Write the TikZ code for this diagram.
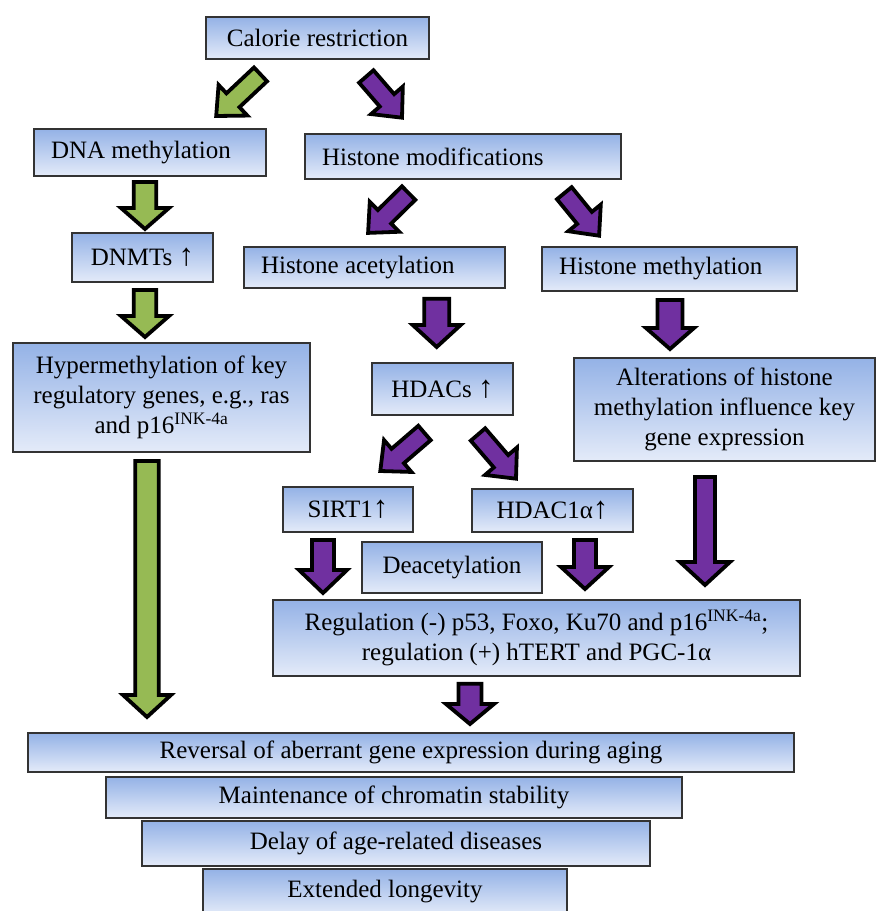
\documentclass[tikz,border=0pt]{standalone}
\usepackage{fontspec}
\setmainfont{Liberation Serif}
\usetikzlibrary{calc}
\definecolor{boxtop}{RGB}{148,178,230}
\definecolor{boxbot}{RGB}{228,235,249}
\definecolor{agreen}{RGB}{150,186,84}
\definecolor{apurple}{RGB}{112,48,160}
\newcommand{\uparr}{{\fontsize{31}{30}\selectfont ↑}}
\newcommand{\blockarr}[6]{%
  \coordinate (hb) at ($(#3)!#6pt!(#2)$);
  \filldraw[arrowline, fill=#1] ($(#2)!#4pt!90:(#3)$) -- ($(hb)!#4pt!90:(#3)$) -- ($(hb)!#5pt!90:(#3)$) -- (#3) -- ($(hb)!#5pt!-90:(#3)$) -- ($(hb)!#4pt!-90:(#3)$) -- ($(#2)!#4pt!-90:(#3)$) -- cycle;}
\tikzset{
  arrowline/.style={draw=black, line width=3.8pt, line join=miter, miter limit=10},
  box/.style={draw=black!80, line width=1.2pt, top color=boxtop, bottom color=boxbot,
    font=\fontsize{25}{30}\selectfont, inner sep=2pt, align=center},
  lbox/.style={box, align=flush left, inner xsep=17pt},
}
\begin{document}
\begin{tikzpicture}[x=1pt, y=-1pt]
\useasboundingbox (0,0) rectangle (876,911);
\clip (0,0) rectangle (876,911);
\fill[white] (0,0) rectangle (876,911);

% boxes
\node[box, minimum width=223pt, minimum height=42pt] (cr) at (317.5,38) {Calorie restriction};
\node[lbox, text width=198pt, minimum height=47pt] (dna) at (150,152.5) {DNA methylation};
\node[lbox, text width=282pt, minimum height=45pt] (hm) at (463,156.5) {Histone modifications};
\node[box, minimum width=141pt, minimum height=49pt] (dnmt) at (142.5,257.5) {DNMTs \uparr};
\node[lbox, text width=227pt, minimum height=41pt] (ha) at (374.5,267.5) {Histone acetylation};
\node[lbox, text width=221pt, minimum height=44pt] (hme) at (669.5,269) {Histone methylation};
\node[box, minimum width=297pt, minimum height=109pt] (hyp) at (161.5,397.5) {Hypermethylation of key\\regulatory genes, e.g., ras\\and p16\textsuperscript{INK-4a}};
\node[box, minimum width=141pt, minimum height=52pt] (hdacs) at (442.5,389) {HDACs \uparr};
\node[box, minimum width=301pt, minimum height=103pt] (alt) at (724.5,409.5) {Alterations of histone\\methylation influence key\\gene expression};
\node[box, minimum width=130pt, minimum height=45pt] (sirt) at (348,509.5) {SIRT1\uparr};
\node[box, minimum width=161pt, minimum height=43pt] (hdac1) at (552.5,510.5) {HDAC1α\uparr};
\node[box, minimum width=180pt, minimum height=51pt] (deac) at (452,567.5) {Deacetylation};
\node[box, minimum width=527pt, minimum height=76pt] (reg) at (536.5,638) {Regulation (-) p53, Foxo, Ku70 and p16\textsuperscript{INK-4a};\\regulation (+) hTERT and PGC-1α};
\node[box, minimum width=766pt, minimum height=39pt] (rev) at (411,752.5) {Reversal of aberrant gene expression during aging};
\node[box, minimum width=576pt, minimum height=41pt] (mcs) at (394,797.5) {Maintenance of chromatin stability};
\node[box, minimum width=508pt, minimum height=45pt] (delay) at (396,843.5) {Delay of age-related diseases};
\node[box, minimum width=364pt, minimum height=46pt] (ext) at (385,892) {Extended longevity};

% arrow end points
\coordinate (g1t) at (260.5,74.4);  \coordinate (g1h) at (216.2,116);
\coordinate (p1t) at (366.3,76.5);  \coordinate (p1h) at (402,117.7);
\coordinate (g2t) at (145,182);     \coordinate (g2h) at (145,229);
\coordinate (g3t) at (145,290);     \coordinate (g3h) at (145,337);
\coordinate (g4t) at (147,461);     \coordinate (g4h) at (147,717);
\coordinate (p2t) at (408.6,193.1); \coordinate (p2h) at (368.1,232.9);
\coordinate (p3t) at (564.3,193.2); \coordinate (p3h) at (599.1,235.7);
\coordinate (p4t) at (436.7,298.7); \coordinate (p4h) at (436.7,347);
\coordinate (p5t) at (670,300);     \coordinate (p5h) at (670,349);
\coordinate (p6t) at (424.5,433);   \coordinate (p6h) at (380.3,471);
\coordinate (p7t) at (478,434.5);   \coordinate (p7h) at (516,478.7);
\coordinate (p8t) at (323,540);     \coordinate (p8h) at (323,593);
\coordinate (p9t) at (585,540);     \coordinate (p9h) at (585,589);
\coordinate (p10t) at (705,477);    \coordinate (p10h) at (705,585);
\coordinate (p11t) at (470,683.7);  \coordinate (p11h) at (470,724);

% block arrows
\blockarr{agreen}{g1t}{g1h}{9.5}{21}{23}
\blockarr{apurple}{p1t}{p1h}{9.5}{21}{23}
\blockarr{agreen}{g2t}{g2h}{11.3}{24}{21}
\blockarr{agreen}{g3t}{g3h}{11.3}{24}{21}
\blockarr{agreen}{g4t}{g4h}{11.8}{24}{22}
\blockarr{apurple}{p2t}{p2h}{9.5}{21}{23}
\blockarr{apurple}{p3t}{p3h}{9.5}{21}{23}
\blockarr{apurple}{p4t}{p4h}{12.5}{24}{22}
\blockarr{apurple}{p5t}{p5h}{12.5}{24}{21}
\blockarr{apurple}{p6t}{p6h}{9.5}{21}{23}
\blockarr{apurple}{p7t}{p7h}{9.5}{21}{23}
\blockarr{apurple}{p8t}{p8h}{11}{24}{23}
\blockarr{apurple}{p9t}{p9h}{11}{24}{22}
\blockarr{apurple}{p10t}{p10h}{10}{25}{23}
\blockarr{apurple}{p11t}{p11h}{11.5}{24}{20}
\end{tikzpicture}
\end{document}
